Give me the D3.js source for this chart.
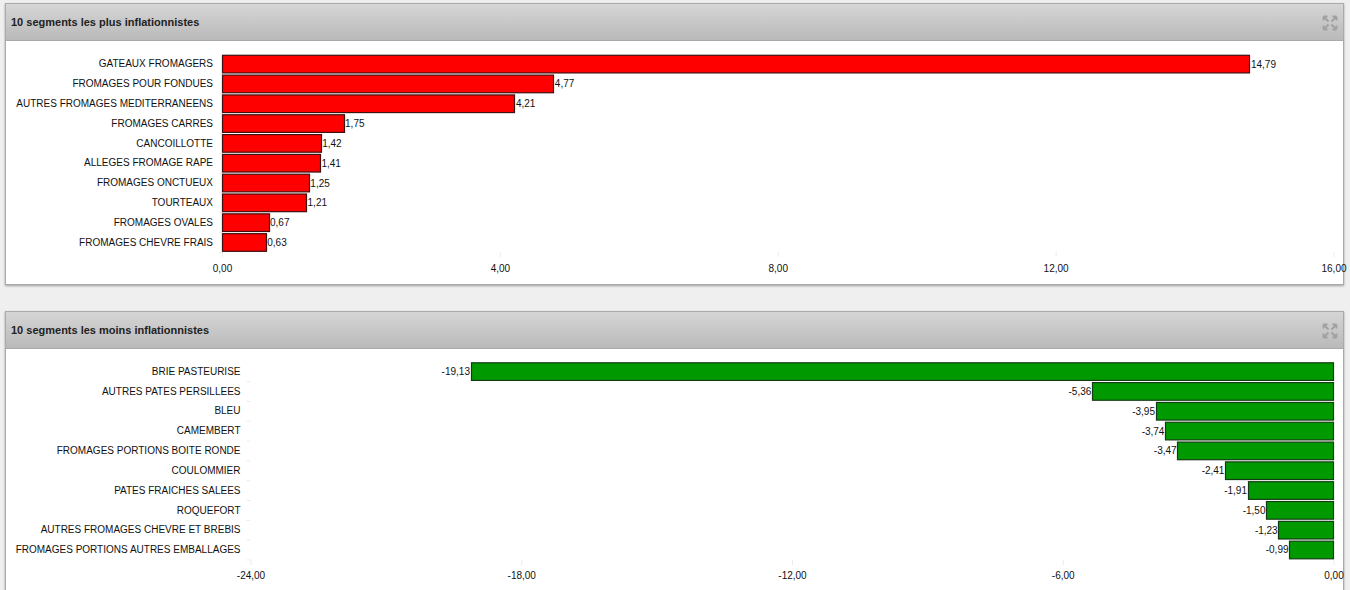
<!DOCTYPE html>
<html><head><meta charset="utf-8">
<script src="https://cdn.jsdelivr.net/npm/d3@7/dist/d3.min.js"></script>
<style>
html,body{margin:0;padding:0;background:#efefef;overflow:hidden}
svg{display:block}
text{font-family:"Liberation Sans",Arial,sans-serif}
</style></head><body>
<svg id="c" width="1350" height="590"></svg>
<script>
const topTitle = "10 segments les plus inflationnistes";
const topCategories = ["GATEAUX FROMAGERS","FROMAGES POUR FONDUES","AUTRES FROMAGES MEDITERRANEENS","FROMAGES CARRES","CANCOILLOTTE","ALLEGES FROMAGE RAPE","FROMAGES ONCTUEUX","TOURTEAUX","FROMAGES OVALES","FROMAGES CHEVRE FRAIS"];
const topValues = [14.79,4.77,4.21,1.75,1.42,1.41,1.25,1.21,0.67,0.63];
const topTicks = [0,4,8,12,16];
const bottomTitle = "10 segments les moins inflationnistes";
const bottomCategories = ["BRIE PASTEURISE","AUTRES PATES PERSILLEES","BLEU","CAMEMBERT","FROMAGES PORTIONS BOITE RONDE","COULOMMIER","PATES FRAICHES SALEES","ROQUEFORT","AUTRES FROMAGES CHEVRE ET BREBIS","FROMAGES PORTIONS AUTRES EMBALLAGES"];
const bottomValues = [-19.13,-5.36,-3.95,-3.74,-3.47,-2.41,-1.91,-1.50,-1.23,-0.99];
const bottomTicks = [-24,-18,-12,-6,0];

const fmt = d3.formatLocale({decimal:",",thousands:" ",grouping:[3],currency:["","€"],minus:"-"}).format(".2f");
const svg = d3.select("#c");
const defs = svg.append("defs");
const g = defs.append("linearGradient").attr("id","hdr").attr("x1",0).attr("y1",0).attr("x2",0).attr("y2",1);
g.append("stop").attr("offset",0).attr("stop-color","#d6d6d6");
g.append("stop").attr("offset",1).attr("stop-color","#b9b9b9");
const sh = defs.append("filter").attr("id","sh").attr("x","-2%").attr("y","-5%").attr("width","104%").attr("height","110%");
sh.append("feDropShadow").attr("dx",0).attr("dy",1).attr("stdDeviation",1.2).attr("flood-color","#000").attr("flood-opacity",0.35);

function panel(o){
  const p = svg.append("g");
  p.append("rect").attr("x",o.px+.5).attr("y",o.py+.5).attr("width",1338).attr("height",o.ph)
    .attr("fill","#fff").attr("stroke","#aaa").attr("filter","url(#sh)");
  p.append("rect").attr("x",o.px+.5).attr("y",o.py+.5).attr("width",1338).attr("height",37)
    .attr("fill","url(#hdr)").attr("stroke","#aaa");
  p.append("text").attr("x",11).attr("y",o.py+23).attr("font-size",11).attr("font-weight","bold")
    .attr("fill","#222").text(o.title);
  const ic = p.append("g").attr("transform",`translate(1323.5,${o.py+13.5})`)
    .attr("fill","none").attr("stroke","#a0a0a0").attr("stroke-width",1.8);
  [[0,0,1,1],[13,0,-1,1],[0,13,1,-1],[13,13,-1,-1]].forEach(([x,y,a,b])=>{
    ic.append("path").attr("d",`M${x},${y}L${x+5*a},${y+5*b}M${x},${y}h${4*a}M${x},${y}v${4*b}`);
  });
  const x = d3.scaleLinear().domain(o.domain).range(o.xr);
  const y = d3.scaleBand().domain(o.cats).range(o.yr).paddingInner(0.11).paddingOuter(0.05);
  const ax = p.append("g").attr("transform",`translate(0,${o.axisY})`)
    .call(d3.axisBottom(x).tickValues(o.ticks).tickFormat(fmt).tickSize(5).tickPadding(o.tp));
  ax.select(".domain").remove();
  ax.selectAll("line").attr("stroke","#ececec");
  ax.selectAll("text").attr("font-size",10).attr("fill","#111");
  const ay = p.append("g").attr("transform",`translate(${o.xr[0]+o.labelShift},0)`)
    .call(d3.axisLeft(y).tickSize(4).tickPadding(6));
  ay.select(".domain").remove();
  ay.selectAll("line").attr("stroke","#ececec").attr("transform",`translate(0,10)`);
  ay.selectAll("text").attr("font-size",10).attr("fill","#111");
  const x0 = x(0);
  const left = d => (d<0?Math.ceil(x(d)):Math.floor(x0))+.5;
  const right = d => (d<0?Math.floor(x0):Math.round(x(d)))+.5;
  p.selectAll(".bar").data(o.vals).join("rect").attr("class","bar")
    .attr("x",left)
    .attr("y",(d,i)=>y(o.cats[i]))
    .attr("width",d=>right(d)-left(d))
    .attr("height",y.bandwidth())
    .attr("fill",o.color).attr("stroke",o.stroke).attr("stroke-width",1.2);
  p.selectAll(".val").data(o.vals).join("text").attr("class","val")
    .attr("x",d=>d<0?x(d)-.3:x(d)+1.5)
    .attr("y",(d,i)=>y(o.cats[i])+y.bandwidth()/2+3.5)
    .attr("text-anchor",d=>d<0?"end":"start")
    .attr("font-size",10).attr("fill","#111").text(d=>fmt(d));
}
panel({px:5,py:3,ph:281,title:topTitle,cats:topCategories,vals:topValues,ticks:topTicks,domain:[0,16],xr:[222,1333.5],labelShift:1,yr:[54.3,252.3],axisY:252,tp:8,color:"#ff0000",stroke:"#401010"});
panel({px:5,py:311,ph:290,title:bottomTitle,cats:bottomCategories,vals:bottomValues,ticks:bottomTicks,domain:[-24,0],xr:[250.5,1333.5],labelShift:0,yr:[361.8,559.8],axisY:560,tp:7,color:"#009900",stroke:"#143c14"});
</script>
</body></html>
